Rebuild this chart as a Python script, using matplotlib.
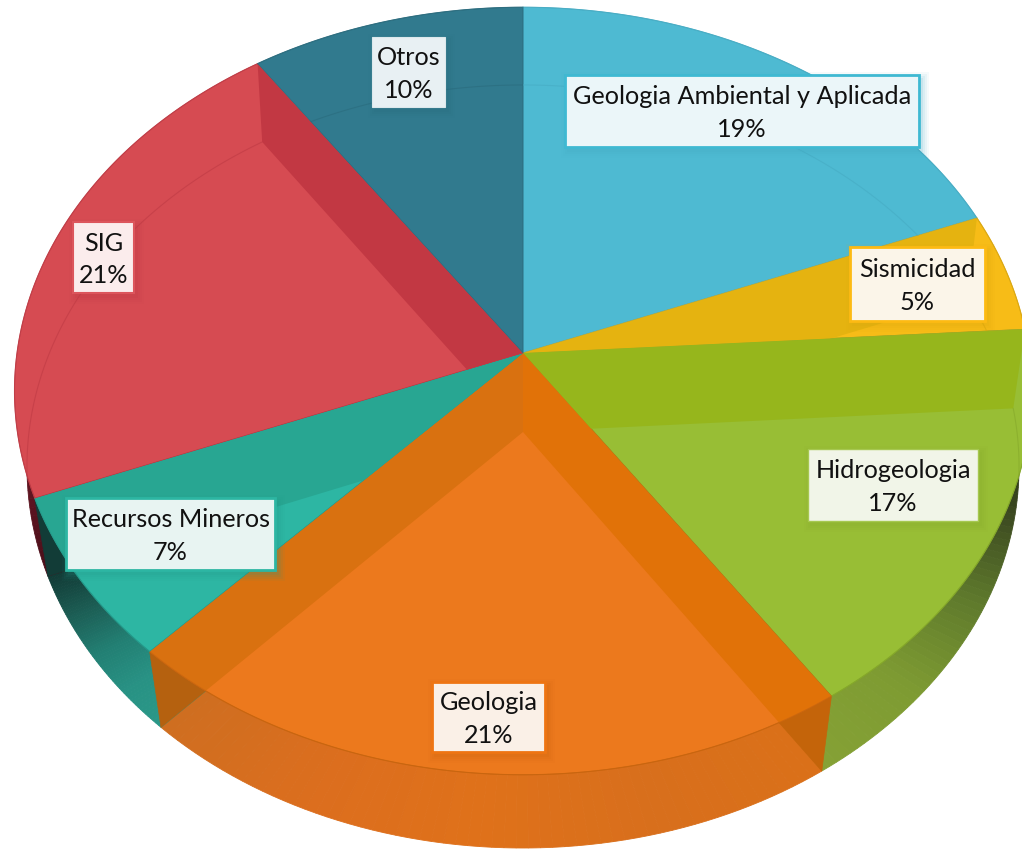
import matplotlib
matplotlib.use("Agg")
import matplotlib.pyplot as plt
import numpy as np
from matplotlib.colors import LinearSegmentedColormap
from matplotlib.patches import PathPatch, Rectangle
from matplotlib.path import Path

categories = ["Geologia Ambiental y Aplicada", "Sismicidad", "Hidrogeologia", "Geologia",
              "Recursos Mineros", "SIG", "Otros"]
values = [19.0, 5.0, 16.55, 21.45, 7.0, 21.4, 9.6]

face_colors = ["#4EBAD2", "#F7BC17", "#98BE35", "#EC791D", "#2DB6A3", "#D64B52", "#317A8E"]
band_start = ["#4EBAD2", "#E5B310", "#96B61C", "#E17208", "#28A692", "#C23843", "#317A8E"]
band_end = ["#4EBAD2", "#E5B310", "#96B61C", "#D97110", "#28A692", "#C23843", "#317A8E"]
line_colors = ["#46ABC3", "#D9A60F", "#85A82A", "#C8650F", "#24998A", "#BE3A44", "#2A6B7D"]
wall_ramps = [
    ["#4EBAD2", "#4EBAD2"],
    ["#E5B310", "#E5B310"],
    ["#20280F", "#3A4720", "#5F7A2C", "#7E9B32", "#85A135"],
    ["#DA7019", "#D86F1C", "#DF711A", "#DC6E1E", "#CF6E20"],
    ["#2A9888", "#289284", "#227F73", "#1C5E55", "#123C37"],
    ["#4A0F1A", "#6A1825", "#C23843", "#C23843", "#C23843"],
    ["#317A8E", "#317A8E"],
]
# walls outside the top disc: (wedge edge index, colour)
rim_walls = [(3, "#C4640A"), (4, "#B5610F"), (5, "#123C37")]

# label boxes: left, top, right, bottom
boxes = [(565, 75, 919, 147), (850, 247, 985, 321), (808, 449, 978, 521), (432, 682, 545, 752),
         (66, 498, 275, 570), (73, 222, 134, 293), (372, 37, 445, 107)]
box_faces = ["#EBF6F9", "#FBF5E9", "#F1F5E8", "#FAF0E7", "#E8F4F2", "#FBECEC", "#E8F0F3"]
box_edges = ["#3FB9D2", "#FDBA13", "#A6C850", "#EE7513", "#2DB6A3", "#DC555C", "#DCE8EC"]
box_lw = [2, 2, 1, 2, 2, 1.5, 0.8]

# perspective of the two discs, pixels: apex x, apex y, half width, half height, tilt
top_disc = (523, 353, 506, 380, 0.099)
low_disc = (523, 432, 494, 378.4, 0.0904)


def project(disc, theta):
    cx, cy, a, b, k = disc
    u, v = np.sin(theta), np.cos(theta)
    w = 1 + k * v
    return cx + a * u / w, cy - b * v / w


def wedge_path(disc, t0, t1, n=120):
    ts = np.linspace(t0, t1, n)
    x, y = project(disc, ts)
    verts = np.column_stack([np.r_[disc[0], x], np.r_[disc[1], y]])
    return Path(np.vstack([verts, verts[0]]), closed=True)


def quad_path(t):
    x0, y0 = project(top_disc, t)
    x1, y1 = project(low_disc, t)
    pts = [(top_disc[0], top_disc[1]), (x0, y0), (x1, y1), (low_disc[0], low_disc[1]),
           (top_disc[0], top_disc[1])]
    return Path(pts, closed=True)


fig = plt.figure(figsize=(10.22, 8.49), dpi=100)
ax = fig.add_axes([0, 0, 1, 1])
ax.set_xlim(0, 1022)
ax.set_ylim(849, 0)
ax.axis("off")

edges = 2 * np.pi * np.r_[0, np.cumsum(values)] / sum(values)

# lower disc, only its outer wall stays in view
for i in range(len(values)):
    cmap = LinearSegmentedColormap.from_list("wall", wall_ramps[i])
    steps = np.linspace(edges[i], edges[i + 1], 61)
    for j in range(60):
        c = cmap(j / 59)
        ax.add_patch(PathPatch(wedge_path(low_disc, steps[j], steps[j + 1], 4),
                               fc=c, ec=c, lw=0.6, zorder=1))

for e, c in rim_walls:
    ax.add_patch(PathPatch(quad_path(edges[e]), fc=c, ec=c, lw=0.5, zorder=2))

# top disc
tops = []
for i in range(len(values)):
    p = PathPatch(wedge_path(top_disc, edges[i], edges[i + 1]), fc=face_colors[i],
                  ec=line_colors[i], lw=0.6, zorder=3)
    ax.add_patch(p)
    tops.append(p)

# radial walls seen through the top
for i, p in enumerate(tops):
    for t, c in [(edges[i], band_start[i]), (edges[i + 1], band_end[i])]:
        q = PathPatch(quad_path(t), fc=c, ec="none", zorder=4)
        ax.add_patch(q)
        q.set_clip_path(p)

# faint lower rim through the top
for i, p in enumerate(tops):
    ts = np.linspace(edges[i], edges[i + 1], 120)
    x, y = project(low_disc, ts)
    ln, = ax.plot(x, y, color=line_colors[i], lw=0.8, alpha=0.6, zorder=5)
    ln.set_clip_path(p)
    x, y = project(top_disc, ts)
    ax.plot(x, y, color=line_colors[i], lw=0.8, alpha=0.7, zorder=5)

# labels
for i, name in enumerate(categories):
    x0, y0, x1, y1 = boxes[i]
    for grow, alpha in [(7, 0.05), (5, 0.07), (3, 0.09), (1, 0.12)]:
        ax.add_patch(Rectangle((x0 + 3 - grow, y0 + 4 - grow), x1 - x0 + 2 * grow, y1 - y0 + 2 * grow,
                               fc=line_colors[i], ec="none", alpha=alpha, zorder=6))
    ax.add_patch(Rectangle((x0, y0), x1 - x0, y1 - y0, fc=box_faces[i], ec=box_edges[i],
                           lw=box_lw[i], zorder=7))
    ax.text((x0 + x1) / 2, (y0 + y1) / 2 + 2, "%s\n%d%%" % (name, round(values[i])),
            ha="center", va="center", family="Lato", fontsize=18.2, linespacing=1.5,
            color="#111111", zorder=8)

fig.savefig("out.png", dpi=100)
